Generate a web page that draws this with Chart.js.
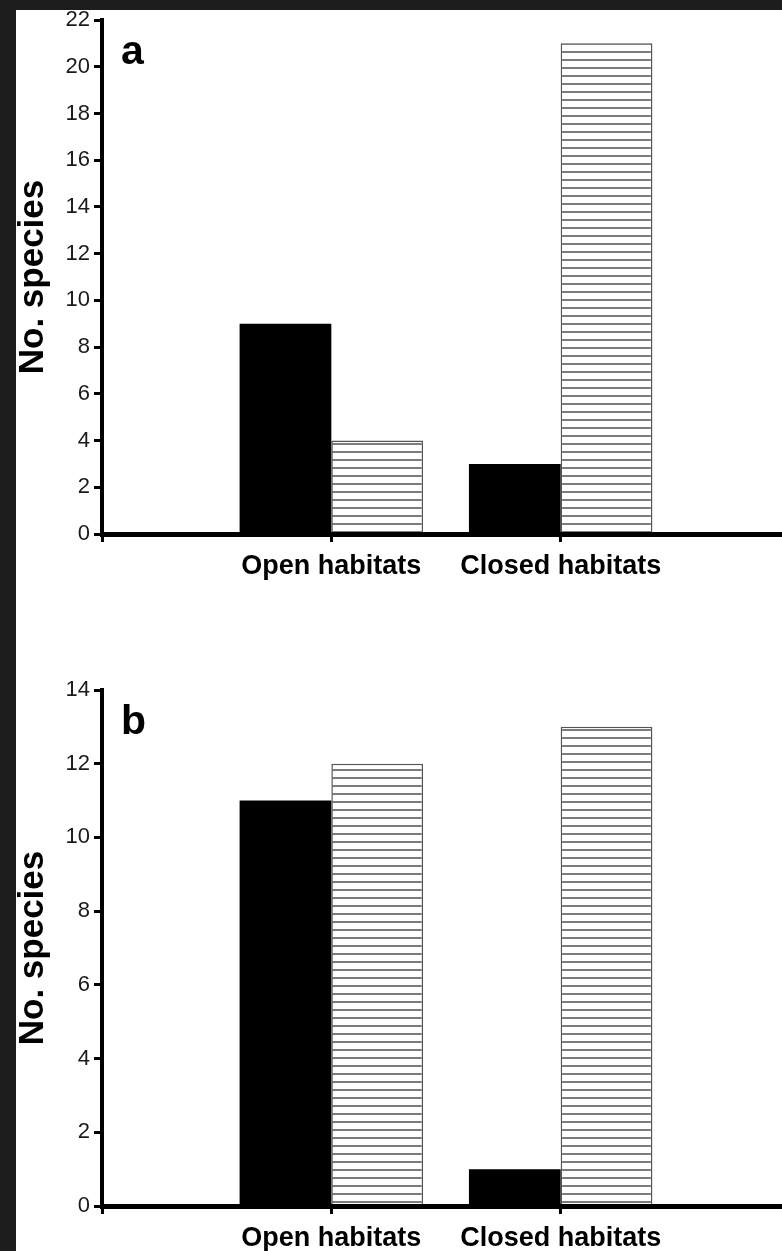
<!DOCTYPE html>
<html>
<head>
<meta charset="utf-8">
<script src="https://cdn.jsdelivr.net/npm/chart.js@4/dist/chart.umd.min.js"></script>
<style>
  html, body { margin: 0; padding: 0; overflow: hidden; background: #1d1d1d; width: 782px; height: 1251px; }
  #paper { position: absolute; left: 16px; top: 10px; width: 766px; height: 1241px; background: #fff; }
  canvas { position: absolute; left: 0; }
</style>
</head>
<body>
<div id="paper"></div>
<canvas id="chartA" width="798" height="594" style="top:0px;width:798px;height:594px"></canvas>
<canvas id="chartB" width="798" height="596" style="top:670px;width:798px;height:596px"></canvas>
<script>
// categories (empty ends give the axis stretch on both sides)
var habitats = ['', 'Open habitats', 'Closed habitats', ''];

// panel a
var aBlack = [null, 9, 3, null];
var aHatched = [null, 4, 21, null];
var aMax = 22;

// panel b
var bBlack = [null, 11, 1, null];
var bHatched = [null, 12, 13, null];
var bMax = 14;

var fontFamily = '"Liberation Sans", Arial, sans-serif';

function hatch() {
    var c = document.createElement('canvas');
    c.width = 8; c.height = 8;
    var g = c.getContext('2d');
    g.fillStyle = '#fff';
    g.fillRect(0, 0, 8, 8);
    g.fillStyle = '#7c7c7c';
    g.fillRect(0, 3, 8, 2);
    return g.createPattern(c, 'repeat');
}

// draws the panel letter in the top-left of the plot
var panelLetter = {
    id: 'panelLetter',
    afterDraw: function(chart, args, opts) {
        var ctx = chart.ctx;
        ctx.save();
        ctx.font = 'bold 41px ' + fontFamily;
        ctx.fillStyle = '#000';
        ctx.textBaseline = 'alphabetic';
        ctx.fillText(opts.text, chart.chartArea.left + 19, chart.chartArea.top + 44);
        ctx.restore();
    }
};

function makeChart(id, letter, black, hatched, max) {
    var ctx = document.getElementById(id).getContext('2d');
    return new Chart(ctx, {
        type: 'bar',
        data: {
            labels: habitats,
            datasets: [{
                data: black,
                backgroundColor: '#000',
                borderWidth: 0
            }, {
                data: hatched,
                backgroundColor: hatch(),
                borderColor: '#555',
                borderWidth: 1.5
            }]
        },
        plugins: [panelLetter],
        options: {
            responsive: false,
            devicePixelRatio: 1,
            animation: false,
            events: [],
            layout: { padding: { top: 20, left: 0, right: 0, bottom: 0 } },
            datasets: { bar: { categoryPercentage: 0.8, barPercentage: 1.0 } },
            plugins: {
                legend: { display: false },
                tooltip: { enabled: false },
                panelLetter: { text: letter }
            },
            scales: {
                x: {
                    offset: false,
                    grid: { offset: false, drawOnChartArea: false, drawTicks: true, tickLength: 8, tickWidth: 3, tickColor: '#000', color: '#000' },
                    border: { display: true, color: '#000', width: 5, z: 1 },
                    ticks: { color: '#000', padding: 8, maxRotation: 0, autoSkip: false, font: { family: fontFamily, size: 27, weight: 'bold' } },
                    afterFit: function(scale) { scale.height = 60; }
                },
                y: {
                    min: 0,
                    max: max,
                    ticks: { stepSize: 2, color: '#1a1a1a', padding: 4, font: { family: fontFamily, size: 22 } },
                    grid: { drawOnChartArea: false, drawTicks: true, tickLength: 8, tickWidth: 3, tickColor: '#000', color: '#000' },
                    border: { display: true, color: '#000', width: 4, z: 1 },
                    title: { display: true, text: 'No. species', color: '#000', padding: { top: 12, bottom: 0 }, font: { family: fontFamily, size: 35, weight: 'bold' } },
                    afterFit: function(scale) { scale.width = 102; }
                }
            }
        }
    });
}

makeChart('chartA', 'a', aBlack, aHatched, aMax);
makeChart('chartB', 'b', bBlack, bHatched, bMax);
</script>
</body>
</html>
